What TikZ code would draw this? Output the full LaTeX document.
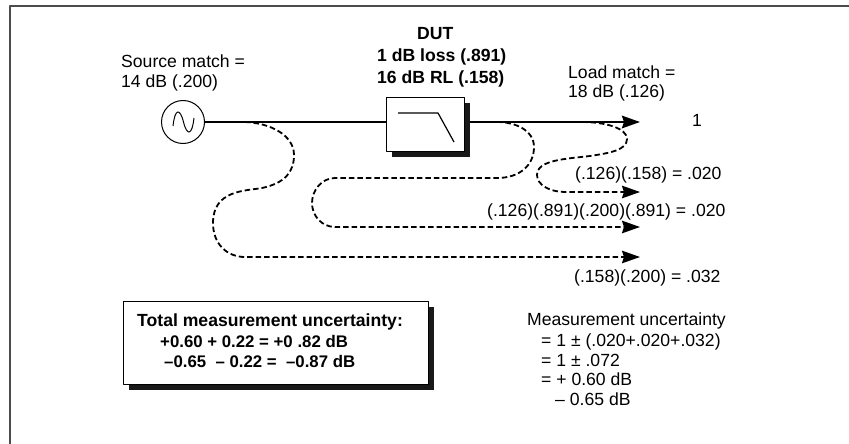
\documentclass[tikz,border=0pt]{standalone}
\usepackage{fontspec}
\setmainfont{Liberation Sans}
\usetikzlibrary{arrows.meta,shadows}
\tikzset{
  txt/.style={anchor=base west,inner sep=0pt,font=\fontsize{17.6}{20}\selectfont},
  txtb/.style={txt,font=\fontsize{16.8}{20}\selectfont\bfseries},
  txtd/.style={txt,font=\fontsize{17.6}{20}\selectfont\bfseries},
  shadowbox/.style={draw,fill=white,line width=1pt,inner sep=0pt,
    drop shadow={shadow xshift=5.5pt,shadow yshift=-5.5pt,fill=black!90,opacity=1}},
  sig/.style={line width=2.4pt},
  echo/.style={line width=1.8pt,dash pattern=on 5.5pt off 3pt},
  tip/.style={-{Stealth[length=18pt,width=12.5pt,inset=2pt]}}
}
\begin{document}
\begin{tikzpicture}[x=1pt,y=-1pt,line join = round]
  \useasboundingbox (0,0) rectangle (849,444);

  % frame
  \coordinate (fr) at (849,6);
  \coordinate (fc) at (10,6);
  \coordinate (fb) at (10,444);
  \draw [line width=2pt, black!70] (fr) -- (fc) -- (fb);

  % source and dut
  \node [circle, draw, fill=white, line width=1pt, minimum size=43pt, inner sep=0pt] (source) at (183,122) {};
  \node [shadowbox, minimum width=77.5pt, minimum height=54pt] (dut) at (425.5,124) {};
  \draw [line width=1pt] (173,126) .. controls (175,108) and (180,108) .. (183.5,122) .. controls (187,136) and (192,136) .. (194,118);
  \coordinate (f0) at (398,113);
  \coordinate (f1) at (438,113);
  \coordinate (f2) at (454,142);
  \draw [line width=1.2pt] (f0) -- (f1) -- (f2);

  % main line
  \coordinate (load) at (640,122);
  \draw [sig] (source.east) -- (dut.west |- source.east);
  \draw [sig, tip] (dut.east |- load) ++(5.5,0) -- (load);

  % ends of the dashed paths
  \coordinate (a0) at (245,122);
  \coordinate (a1) at (640,257);
  \coordinate (b0) at (497,122);
  \coordinate (b1) at (640,227);
  \coordinate (c0) at (582,122);
  \coordinate (c1) at (640,192);

  \draw [echo, tip] (a0) .. controls (270,123) and (294,135) .. (294,155)
     .. controls (294,172) and (285,183) .. (262,188)
     .. controls (245,191) and (213,190) .. (213,223)
     .. controls (213,245) and (228,257) .. (245,257) -- (a1);
  \draw [echo, tip] (b0) .. controls (515,122) and (534,130) .. (534,147)
     .. controls (534,165) and (520,178) .. (497,178) -- (335,178)
     .. controls (322,178) and (312,190) .. (312,203)
     .. controls (312,216) and (322,227) .. (335,227) -- (b1);
  \draw [echo, tip] (c0) .. controls (605,122) and (627,128) .. (627,139)
     .. controls (627,150) and (610,153) .. (590,156)
     .. controls (565,159) and (537,160) .. (537,175)
     .. controls (537,185) and (550,192) .. (565,192) -- (c1);

  % labels
  \node [txt] (srcA) at (121,68) {Source match =};
  \node [txt] (srcB) at (121,88) {14 dB (.200)};
  \node [txtd] (dutA) at (417,40) {DUT};
  \node [txtd] (dutB) at (377,62) {1 dB loss (.891)};
  \node [txtd] (dutC) at (377,84) {16 dB RL (.158)};
  \node [txt] (loadA) at (568,78) {Load match =};
  \node [txt] (loadB) at (568,98) {18 dB (.126)};
  \node [txt] (one) at (692,126) {1};
  \node [txt] (termA) at (575,179) {(.126)(.158) = .020};
  \node [txt] (termB) at (487,216) {(.126)(.891)(.200)(.891) = .020};
  \node [txt] (termC) at (574,282) {(.158)(.200) = .032};

  % total
  \node [shadowbox, minimum width=305pt, minimum height=83pt] (total) at (275.5,342.5) {};
  \node [txtd] (totA) at (137,326) {Total measurement uncertainty:};
  \node [txtb] (totB) at (160,347) {+0.60 + 0.22 = +0 .82 dB};
  \node [txtb] (totC) at (164,367) {–0.65 \ – 0.22 = \ –0.87 dB};

  % uncertainty
  \node [txt] (muA) at (527,325) {Measurement uncertainty};
  \node [txt] (muB) at (541,346) {= 1 ± (.020+.020+.032)};
  \node [txt] (muC) at (541,366) {= 1 ± .072};
  \node [txt] (muD) at (541,385) {= + 0.60 dB};
  \node [txt] (muE) at (555,405) {– 0.65 dB};
\end{tikzpicture}
\end{document}
